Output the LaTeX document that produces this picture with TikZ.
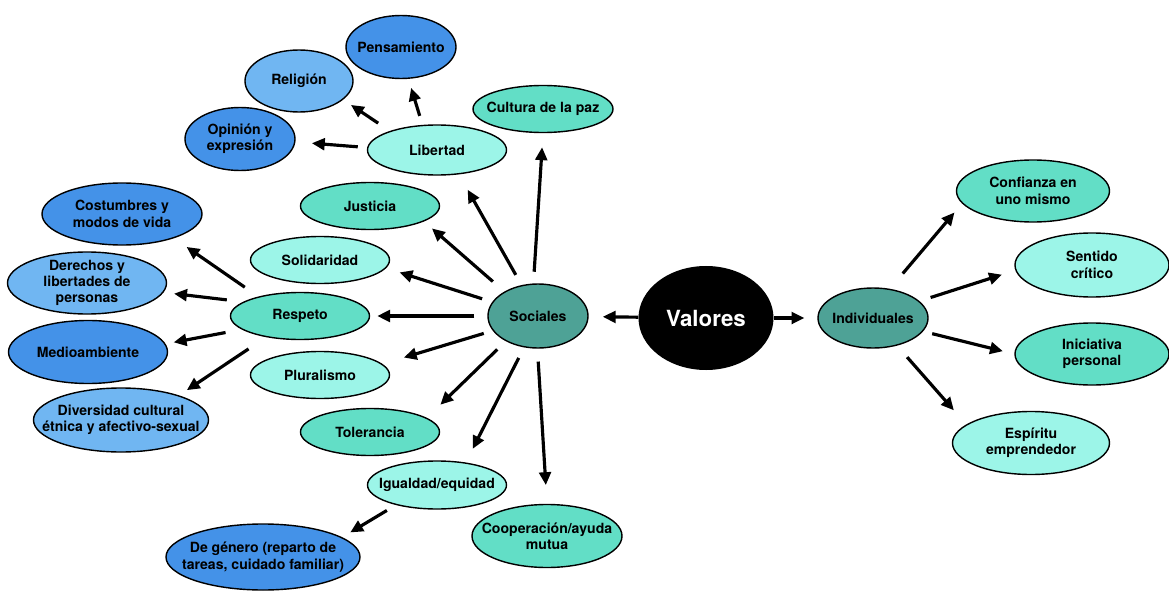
\documentclass[tikz,border=0pt]{standalone}
\usepackage{fontspec}
\setmainfont{TeX Gyre Heros}
\usetikzlibrary{arrows.meta,positioning,shapes.geometric}
\definecolor{deepblue}{RGB}{68,146,232}
\definecolor{paleblue}{RGB}{112,182,242}
\definecolor{seagreen}{RGB}{98,222,198}
\definecolor{mintgreen}{RGB}{156,245,232}
\definecolor{hubteal}{RGB}{78,162,150}

\begin{document}
\begin{tikzpicture}[x=0.03cm, y=-0.03cm,
  bub/.style={ellipse, draw=black, line width=1.2pt, fill=#1,
              inner xsep=-20pt, inner ysep=-3pt, align=center,
              font=\fontsize{12}{14}\selectfont\bfseries,
              minimum width=4.17cm, minimum height=1.41cm},
  leaf/.style={bub=#1, minimum width=4.77cm, minimum height=1.86cm},
  twig/.style={bub=#1, minimum width=3.3cm, minimum height=1.89cm},
  arr/.style={-{Triangle[length=11pt,width=10pt]}, line width=2.7pt,
              shorten <=8pt, shorten >=8pt},
  far/.style={arr, shorten <=10pt}
]
  \useasboundingbox (0,0) rectangle (1169,591);

  % centre
  \node[ellipse, fill=black, minimum width=4.05cm, minimum height=3.12cm, text=white,
        font=\fontsize{19}{21}\selectfont\bfseries] (val) at (706,318) {Valores};
  \node[bub=hubteal, minimum width=3cm, minimum height=1.92cm] (soc) at (538,316) {Sociales};
  \node[bub=hubteal, minimum width=3.3cm, minimum height=1.8cm] (ind) at (873,318) {Individuales};

  % social values
  \node[bub=mintgreen, minimum height=1.5cm] (lib) at (437,150) {Libertad};
  \node[bub=seagreen, minimum width=4.2cm] (cul) at (543,109) {Cultura de la paz};
  \node[bub=seagreen] (jus) at (370,206) {Justicia};
  \node[bub=mintgreen] (sol) at (320,260) {Solidaridad};
  \node[bub=seagreen] (res) at (300,316) {Respeto};
  \node[bub=mintgreen] (plu) at (320,375) {Pluralismo};
  \node[bub=seagreen] (tol) at (370,432) {Tolerancia};
  \node[bub=mintgreen, minimum height=1.44cm] (igu) at (437,485) {Igualdad/equidad};
  \node[bub=seagreen, minimum width=4.5cm, minimum height=1.89cm] (coo) at (547,536) {Cooperación/ayuda\\mutua};

  % under Libertad
  \node[twig=deepblue] (pen) at (401,47) {Pensamiento};
  \node[twig=paleblue, minimum width=3.24cm, minimum height=1.86cm] (rel) at (299,81) {Religión};
  \node[twig=deepblue] (opi) at (240,139) {Opinión y\\expresión};

  % under Respeto
  \node[leaf=deepblue, minimum width=4.8cm] (cos) at (122,214) {Costumbres y\\modos de vida};
  \node[leaf=paleblue] (der) at (87,283) {Derechos y\\libertades de\\personas};
  \node[leaf=deepblue, minimum height=1.89cm] (med) at (88,352) {Medioambiente};
  \node[leaf=paleblue, minimum width=5.25cm, minimum height=1.92cm] (div) at (121,420) {Diversidad cultural\\étnica y afectivo-sexual};

  % under Igualdad
  \node[leaf=deepblue, minimum width=5.82cm, minimum height=1.98cm] (gen) at (263,557) {De género (reparto de\\tareas, cuidado familiar)};

  % individual values
  \node[leaf=seagreen, minimum width=4.59cm] (con) at (1033,191) {Confianza en\\uno mismo};
  \node[leaf=mintgreen, minimum width=4.62cm, minimum height=1.92cm] (sen) at (1092,265) {Sentido\\crítico};
  \node[leaf=seagreen, minimum width=4.62cm] (ini) at (1092,354) {Iniciativa\\personal};
  \node[leaf=mintgreen, minimum width=4.71cm, minimum height=1.89cm] (esp) at (1031,443) {Espíritu\\emprendedor};

  % arrows out of Valores
  \draw[arr, shorten <=0pt, shorten >=12pt] (val) -- (soc);
  \draw[arr, shorten <=0pt, shorten >=11pt] (val) -- (ind);

  % arrows out of Sociales
  \draw[far, shorten >=12pt] (soc.98) -- (cul.south);
  \draw[far, shorten >=15pt] (soc.118) -- (lib.-48);
  \draw[far, shorten <=13pt, shorten >=9pt] (soc.144) -- (jus.-16);
  \draw[far, shorten <=9pt, shorten >=12pt] (soc.163) -- (sol.-7);
  \draw[far, shorten <=11pt, shorten >=6pt] (soc.west) -- (res.east);
  \draw[far, shorten <=8pt, shorten >=19pt] (soc.198) -- (plu.10);
  \draw[far, shorten >=16pt] (soc.218) -- (tol.14);
  \draw[far, shorten >=13pt] (soc.246) -- (igu.38);
  \draw[far, shorten <=11pt, shorten >=16pt] (soc.269) -- (coo.north);

  % arrows out of Libertad
  \draw[arr] (lib.120) -- (pen.-77);
  \draw[arr, shorten <=12pt] (lib.158) -- (rel.-23);
  \draw[arr, shorten >=14pt] (lib.178) -- (opi.-3);

  % arrows out of Respeto
  \draw[arr, shorten <=14pt, shorten >=13pt] (res.155) -- (cos.-25);
  \draw[arr, shorten <=14pt, shorten >=9pt] (res.166) -- (der.-7);
  \draw[arr, shorten <=14pt, shorten >=7pt] (res.193) -- (med.6);
  \draw[arr, shorten <=18pt] (res.212) -- (div.23);

  % arrow out of Igualdad
  \draw[arr, shorten <=9pt] (igu.206) -- (gen.14);

  % arrows out of Individuales
  \draw[arr, shorten <=17pt, shorten >=10pt] (ind.60) -- (con.190);
  \draw[arr, shorten <=10pt, shorten >=12pt] (ind.20) -- (sen.184);
  \draw[arr, shorten <=8pt, shorten >=10pt] (ind.-15) -- (ini.west);
  \draw[arr, shorten <=13pt, shorten >=16pt] (ind.-49) -- (esp.164);
\end{tikzpicture}
\end{document}
